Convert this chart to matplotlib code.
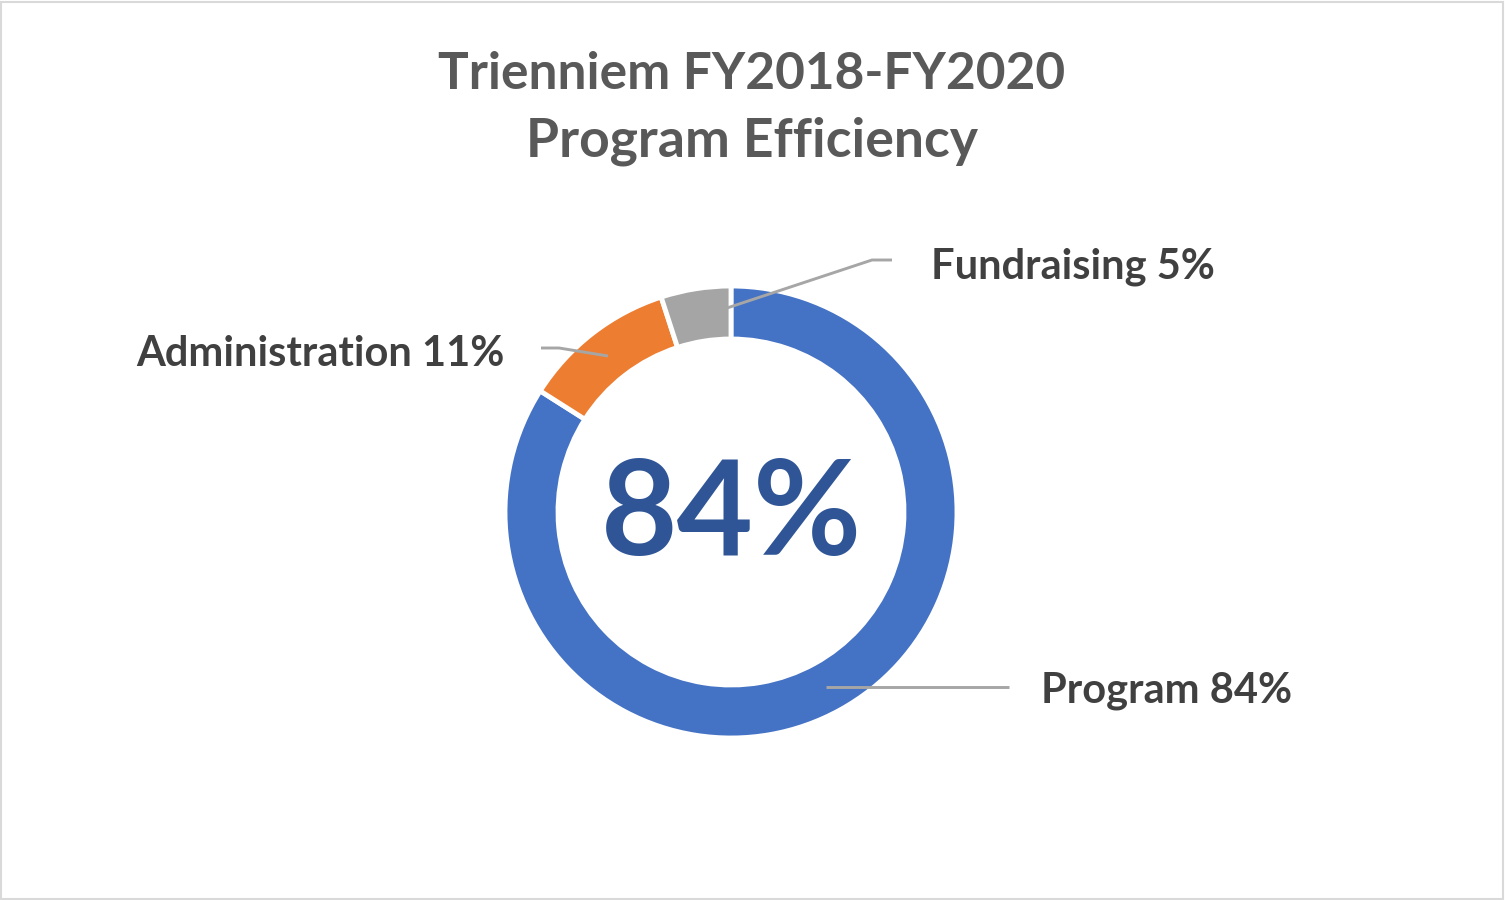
import numpy as np
import matplotlib.pyplot as plt
from matplotlib.patches import Rectangle

# chart data
categories = ['Program', 'Administration', 'Fundraising']
shares = [84, 11, 5]
colors = ['#4472C4', '#ED7D31', '#A5A5A5']
title_lines = ['Trienniem FY2018-FY2020', 'Program Efficiency']
center_label = '84%'

W, H = 1505, 900
plt.rcParams['font.family'] = ['Lato', 'DejaVu Sans']

fig = plt.figure(figsize=(W / 100, H / 100), dpi=100)
ax = fig.add_axes([0, 0, 1, 1])


def py(y):
    # image pixel row -> data y
    return H - y


cx, cy, r_out = 731, py(512), 226
ax.pie(shares, colors=colors, startangle=90, counterclock=False,
       center=(cx, cy), radius=r_out,
       wedgeprops=dict(width=53, edgecolor='white', linewidth=3.5))
ax.set_xlim(0, W)
ax.set_ylim(0, H)
ax.set_aspect('equal')
ax.axis('off')

# title
ax.text(752, py(89), title_lines[0], ha='center', va='baseline',
        fontsize=37, fontweight='bold', color='#595959')
ax.text(752, py(157), title_lines[1], ha='center', va='baseline',
        fontsize=38.5, fontweight='bold', color='#595959')

# centre value
ax.text(cx, py(555), center_label, ha='center', va='baseline',
        fontsize=95, fontweight='bold', color='#2F5597')

# labels and leader lines (layout positions)
lead = '#A6A6A6'
label_layout = {
    'Program': dict(x=1041, y=703, ha='left',
                    line=[(826, 687), (1009, 687)]),
    'Administration': dict(x=505, y=366, ha='right',
                           line=[(608, 356), (559, 348), (541, 348)]),
    'Fundraising': dict(x=931, y=278, ha='left',
                        line=[(727, 308), (872, 260), (892, 260)]),
}
for name, val in zip(categories, shares):
    lay = label_layout[name]
    xs = [p[0] for p in lay['line']]
    ys = [py(p[1]) for p in lay['line']]
    ax.plot(xs, ys, color=lead, lw=2.1, solid_capstyle='butt')
    ax.text(lay['x'], py(lay['y']), f'{name} {val}%', ha=lay['ha'],
            va='baseline', fontsize=30, fontweight='bold', color='#404040')

# chart border
fig.patches.append(Rectangle((1, 1), W - 3, H - 3, transform=None,
                             fill=False, edgecolor='#D9D9D9', lw=1.5))

fig.savefig('out.png', dpi=100)
